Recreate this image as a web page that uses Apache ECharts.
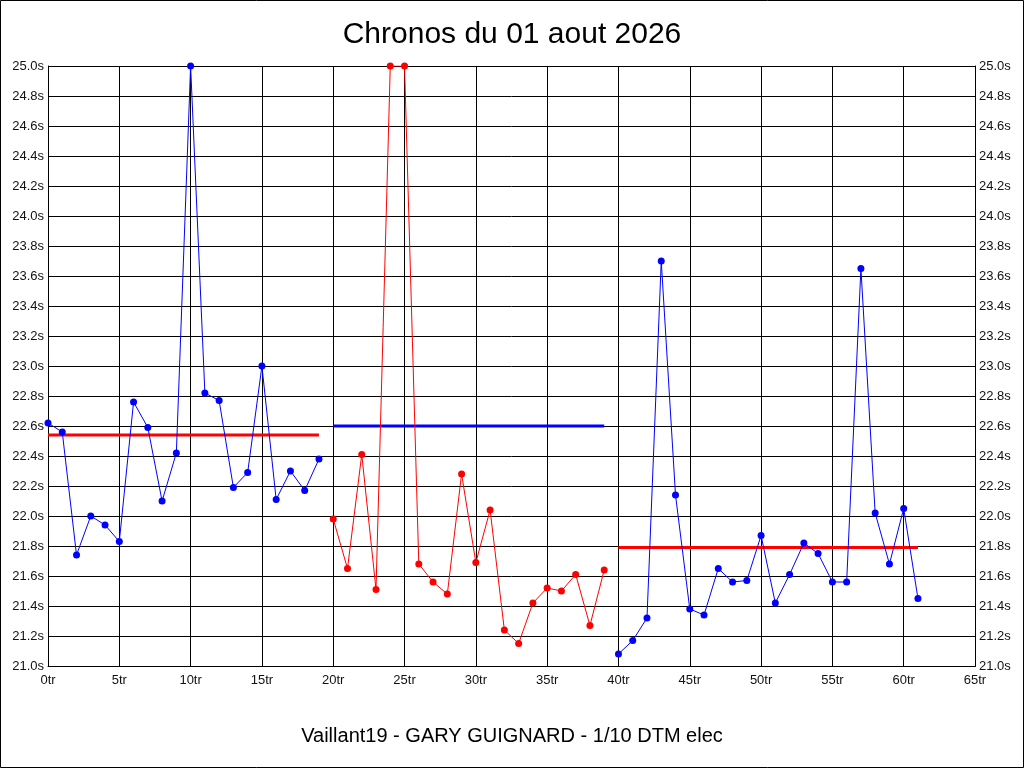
<!DOCTYPE html>
<html>
<head>
<meta charset="utf-8">
<title>Chronos du 01 aout 2026</title>
<script src="https://cdn.jsdelivr.net/npm/echarts@6/dist/echarts.min.js"></script>
<style>
  html, body { margin: 0; padding: 0; background: #fff; }
  #chart { width: 1024px; height: 768px; }
</style>
</head>
<body>
<div id="chart"></div>
<script>
// lap times (seconds), one array per stint
const stint1Laps = [0, 1, 2, 3, 4, 5, 6, 7, 8, 9, 10, 11, 12, 13, 14, 15, 16, 17, 18, 19];
const stint1Times = [22.62, 22.56, 21.74, 22.0, 21.94, 21.83, 22.76, 22.59, 22.10, 22.42,
  25.0, 22.82, 22.77, 22.19, 22.29, 23.0, 22.11, 22.30, 22.17, 22.38];

const stint2Laps = [20, 21, 22, 23, 24, 25, 26, 27, 28, 29, 30, 31, 32, 33, 34, 35, 36, 37, 38, 39];
const stint2Times = [21.98, 21.65, 22.41, 21.51, 25.0, 25.0, 21.68, 21.56, 21.48, 22.28,
  21.69, 22.04, 21.24, 21.15, 21.42, 21.52, 21.50, 21.61, 21.27, 21.64];

const stint3Laps = [40, 41, 42, 43, 44, 45, 46, 47, 48, 49, 50, 51, 52, 53, 54, 55, 56, 57, 58, 59, 60, 61];
const stint3Times = [21.08, 21.17, 21.32, 23.70, 22.14, 21.38, 21.34, 21.65, 21.56, 21.57,
  21.87, 21.42, 21.61, 21.82, 21.75, 21.56, 21.56, 23.65, 22.02, 21.68, 22.05, 21.45];

// average per stint: [first lap, last lap, average]
const averages = [
  [0, 19, 22.54],
  [20, 39, 22.60],
  [40, 61, 21.79]
];

const stintColors = ["#0000ff", "#ff0000", "#0000ff"];
const averageColors = ["#ff0000", "#0000ff", "#ff0000"];

const xTicks = { min: 0, max: 65, interval: 5 };
const yTicks = { min: 21.0, max: 25.0, interval: 0.2 };

function pairs(xs, ys) {
  return xs.map((x, i) => [x, ys[i]]);
}

function lapSeries(laps, times, color) {
  return {
    type: "line",
    data: pairs(laps, times),
    symbol: "circle",
    symbolSize: 7,
    showSymbol: true,
    lineStyle: { color: color, width: 1 },
    itemStyle: { color: color },
    animation: false,
    z: 3
  };
}

function averageSeries(avg, color) {
  return {
    type: "line",
    data: [[avg[0], avg[2]], [avg[1], avg[2]]],
    symbol: "none",
    lineStyle: { color: color, width: 3 },
    animation: false,
    z: 2
  };
}

const labelFont = { fontFamily: "Liberation Sans, Arial, sans-serif", fontSize: 13, color: "#111" };
const yLabel = v => v.toFixed(1) + "s";

const yAxisBase = {
  type: "value",
  min: yTicks.min,
  max: yTicks.max,
  interval: yTicks.interval,
  axisLine: { show: true, lineStyle: { color: "#000", width: 1 } },
  axisTick: { show: false },
  splitLine: { show: true, lineStyle: { color: "#000", width: 1 } },
  axisLabel: Object.assign({ formatter: yLabel, margin: 4 }, labelFont)
};

const chart = echarts.init(document.getElementById("chart"));

chart.setOption({
  backgroundColor: "#fff",
  animation: false,
  title: [
    {
      text: "Chronos du 01 aout 2026",
      left: "center",
      top: 15,
      textStyle: { fontFamily: "Liberation Sans, Arial, sans-serif", fontSize: 30, fontWeight: "normal", color: "#000" }
    },
    {
      text: "Vaillant19 - GARY GUIGNARD - 1/10 DTM elec",
      left: "center",
      top: 721,
      textStyle: { fontFamily: "Liberation Sans, Arial, sans-serif", fontSize: 20, fontWeight: "normal", color: "#000" }
    }
  ],
  grid: { left: 48, right: 49, top: 66, bottom: 102, containLabel: false },
  xAxis: {
    type: "value",
    min: xTicks.min,
    max: xTicks.max,
    interval: xTicks.interval,
    axisLine: { show: true, onZero: false, lineStyle: { color: "#000", width: 1 } },
    axisTick: { show: false },
    splitLine: { show: true, lineStyle: { color: "#000", width: 1 } },
    axisLabel: Object.assign({ formatter: "{value}tr", margin: 8 }, labelFont)
  },
  yAxis: [
    Object.assign({}, yAxisBase, { position: "left" }),
    Object.assign({}, yAxisBase, { position: "right", splitLine: { show: false } })
  ],
  series: [
    lapSeries(stint1Laps, stint1Times, stintColors[0]),
    lapSeries(stint2Laps, stint2Times, stintColors[1]),
    lapSeries(stint3Laps, stint3Times, stintColors[2])
  ].concat(averages.map((a, i) => averageSeries(a, averageColors[i]))),
  graphic: [
    {
      type: "rect",
      shape: { x: 0.5, y: 0.5, width: 1023, height: 767 },
      style: { fill: "none", stroke: "#000", lineWidth: 1 },
      silent: true
    },
    {
      type: "rect",
      shape: { x: 48.5, y: 66.5, width: 927, height: 600 },
      style: { fill: "none", stroke: "#000", lineWidth: 1 },
      silent: true,
      z: 1
    }
  ]
});
</script>
</body>
</html>
